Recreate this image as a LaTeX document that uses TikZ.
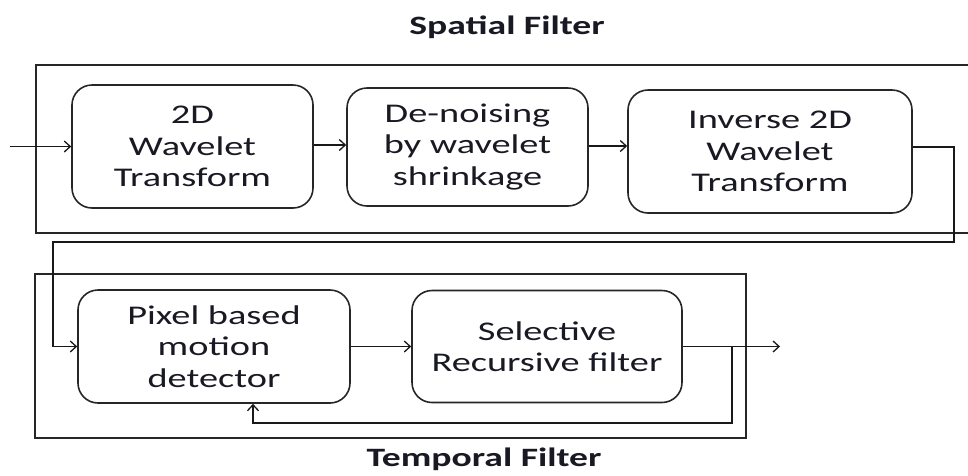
\documentclass[tikz,border=0pt]{standalone}
\usepackage{fontspec}
\setmainfont[FakeStretch=1.42]{Carlito}
\usetikzlibrary{arrows.meta}
\definecolor{txt}{RGB}{25,25,35}
\tikzset{
  blk/.style={draw=black!85, line width=1.6pt, rounded corners=20pt, align=center,
    font=\fontsize{27}{31.5}\selectfont, text=txt, inner sep=0pt},
  frame/.style={draw=black!85, line width=1.6pt},
  conn/.style={draw=black!90, line width=1.3pt},
  arr/.style={conn, -{Straight Barb[length=6pt,width=11pt,line width=1.3pt]}},
  ttl/.style={font=\bfseries\fontsize{26.5}{30}\selectfont, text=txt}
}
\begin{document}
\begin{tikzpicture}[x=1pt,y=-1pt]
\useasboundingbox (0,0) rectangle (968,475);
% frames
\draw[frame] (980,65) -- (36,65) -- (36,233) -- (980,233);
\draw[frame] (35,274) rectangle (746,438);
% titles
\node[ttl] (t1) at (507,27) {Spatial Filter};
\node[ttl] (t2) at (484,459) {Temporal Filter};
% blocks
\node[blk, minimum width=241pt, minimum height=123pt] (b1) at (192.5,146.5) {2D\\Wavelet\\Transform};
\node[blk, minimum width=241pt, minimum height=118pt] (b2) at (467.5,147) {De-noising\\by wavelet\\shrinkage};
\node[blk, minimum width=284pt, minimum height=123pt] (b3) at (770,151.5) {Inverse 2D\\Wavelet\\Transform};
\node[blk, minimum width=272pt, minimum height=113pt] (b4) at (214,346.5) {Pixel based\\motion\\detector};
\node[blk, minimum width=270pt, minimum height=112pt] (b5) at (547,346.5) {Selective\\Recursive filter};
% coordinates
\coordinate (in) at (10,146.5);
\coordinate (c1) at (954,147);
\coordinate (c2) at (954,242);
\coordinate (c3) at (53,242);
\coordinate (c4) at (53,346.5);
\coordinate (out) at (780,346.5);
\coordinate (f1) at (732,346.5);
\coordinate (f2) at (732,423);
\coordinate (f3) at (253,423);
% connectors
\draw[arr] (in) -- (b1.west);
\draw[arr] (b1.east |- 0,145) -- (b2.west |- 0,145);
\draw[arr] (b2.east |- 0,146) -- (b3.west |- 0,146);
\draw[conn] (b3.east |- c1) -- (c1) -- (c2) -- (c3) -- (c4);
\draw[arr] (c4) -- (b4.west);
\draw[arr] (b4.east) -- (b5.west);
\draw[arr] (b5.east) -- (out);
\draw[arr] (f1) -- (f2) -- (f3) -- (f3 |- b4.south);
\end{tikzpicture}
\end{document}
